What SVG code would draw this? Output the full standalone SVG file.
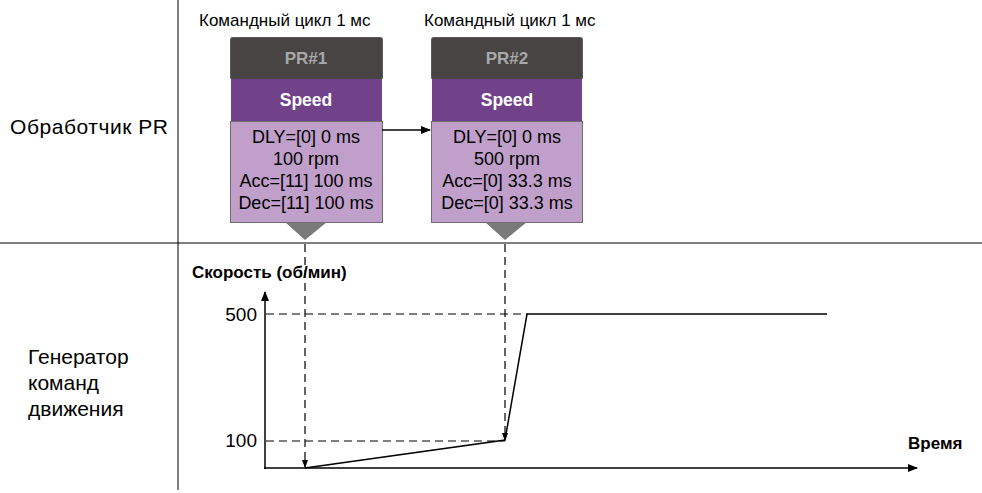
<svg xmlns="http://www.w3.org/2000/svg" width="982" height="493" viewBox="0 0 982 493">
<defs>
<style>
text{font-family:"Liberation Sans",Arial,sans-serif;fill:#000}
.lbl{font-size:21px}
.hdr{font-size:17px}
.pr{font-size:17px;font-weight:bold;fill:#a8a8a8;text-anchor:middle}
.sp{font-size:17.5px;font-weight:bold;fill:#fff;text-anchor:middle}
.bd{font-size:18px;text-anchor:middle}
.ax{font-size:19px;text-anchor:end}
.b{font-size:17px;font-weight:bold}
.dk{fill:#474443;stroke:#5a5a5a;stroke-width:1}
.pu{fill:#71428a}
.lt{fill:#c09fcb;stroke:#6e6e6e;stroke-width:1}
.tri{fill:#7a7a7a}
.ln{stroke:#000;stroke-width:1.5;fill:none}
.ds{stroke:#000;stroke-width:1.2;fill:none;stroke-dasharray:8,5}
</style>
<marker id="ah" markerWidth="10" markerHeight="8" refX="9" refY="4" orient="auto" markerUnits="userSpaceOnUse">
<path d="M0,0 L10,4 L0,8 z" fill="#000"/>
</marker>
<marker id="ahs" markerWidth="8" markerHeight="8" refX="7" refY="4" orient="auto" markerUnits="userSpaceOnUse">
<path d="M0,1 L8,4 L0,7 z" fill="#000"/>
</marker>
</defs>
<rect width="982" height="493" fill="#fff"/>
<g id="frame">
<line x1="178" y1="0" x2="178" y2="490" stroke="#000" stroke-width="1"/>
<line x1="0" y1="243" x2="982" y2="243" stroke="#000" stroke-width="1.2"/>
</g>
<g id="row-labels">
<text class="lbl" x="10" y="134" textLength="158">Обработчик PR</text>
<text class="lbl" x="28" y="364">Генератор</text>
<text class="lbl" x="28" y="390">команд</text>
<text class="lbl" x="28" y="416">движения</text>
</g>
<g id="pr1">
<text class="hdr" x="199" y="26">Командный цикл 1 мс</text>
<polygon class="tri" points="285,222 327,222 305,240"/>
<rect class="dk" x="230.5" y="37.5" width="152" height="42" rx="2"/>
<rect class="pu" x="231" y="79" width="151" height="42"/>
<rect class="lt" x="230.5" y="121.5" width="152" height="101"/>
<text class="pr" x="306" y="64">PR#1</text>
<text class="sp" x="306" y="106">Speed</text>
<text class="bd" x="306" y="143">DLY=[0] 0 ms</text>
<text class="bd" x="306" y="165">100 rpm</text>
<text class="bd" x="306" y="187">Acc=[11] 100 ms</text>
<text class="bd" x="306" y="209">Dec=[11] 100 ms</text>
</g>
<g id="pr2">
<text class="hdr" x="424" y="26">Командный цикл 1 мс</text>
<polygon class="tri" points="485,222 527,222 505,240"/>
<rect class="dk" x="431.5" y="37.5" width="151" height="42" rx="2"/>
<rect class="pu" x="432" y="79" width="150" height="42"/>
<rect class="lt" x="431.5" y="121.5" width="151" height="101"/>
<text class="pr" x="507" y="64">PR#2</text>
<text class="sp" x="507" y="106">Speed</text>
<text class="bd" x="507" y="143">DLY=[0] 0 ms</text>
<text class="bd" x="507" y="165">500 rpm</text>
<text class="bd" x="507" y="187">Acc=[0] 33.3 ms</text>
<text class="bd" x="507" y="209">Dec=[0] 33.3 ms</text>
</g>
<g id="chart">
<text class="b" x="192" y="278">Скорость (об/мин)</text>
<text class="b" x="908" y="449">Время</text>
<text class="ax" x="257" y="321">500</text>
<text class="ax" x="257" y="447">100</text>
<polyline class="ln" points="305,468 505,440 527,314 827,314"/>
</g>
<g id="connectors">
<line x1="382" y1="130" x2="430" y2="130" class="ln" marker-end="url(#ah)"/>
<line x1="265" y1="469" x2="265" y2="292" class="ln" marker-end="url(#ah)"/>
<line x1="264" y1="468" x2="917" y2="468" class="ln" marker-end="url(#ah)"/>
<line x1="266" y1="314" x2="527" y2="314" class="ds"/>
<line x1="266" y1="441" x2="505" y2="441" class="ds"/>
<line x1="305" y1="244" x2="305" y2="467" class="ds" marker-end="url(#ahs)"/>
<line x1="505" y1="244" x2="505" y2="440" class="ds" marker-end="url(#ahs)"/>
</g>
</svg>
